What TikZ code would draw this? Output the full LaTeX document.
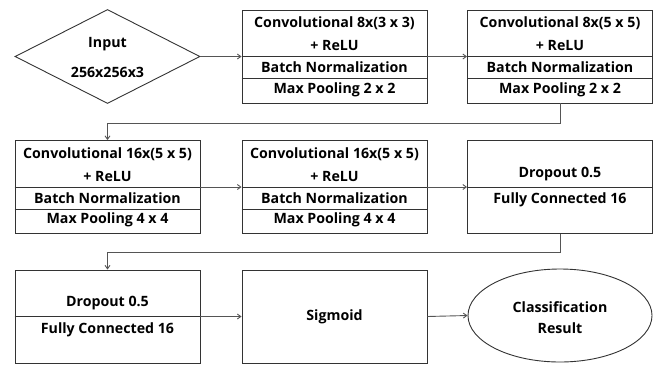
\documentclass[tikz,border=0pt]{standalone}
\usepackage{fontspec}
\setmainfont{Open Sans}
\usetikzlibrary{shapes.geometric,arrows.meta}
\definecolor{edge}{HTML}{333333}
\definecolor{wire}{HTML}{555555}
\begin{document}
\begin{tikzpicture}[x=1pt,y=-1pt,
  font=\fontsize{14.2}{16}\selectfont\bfseries,
  blk/.style={draw=edge, line width=0.9pt, minimum width=185pt, minimum height=93pt, inner sep=0pt},
  rule/.style={draw=edge, line width=0.8pt},
  txt/.style={inner sep=0pt, anchor=center},
  link/.style={draw=wire, line width=0.9pt, -{Straight Barb[length=3.5pt,width=5pt]}}
]
\useasboundingbox (0,0) rectangle (662,365);

% ---------- row 1 ----------
\node[diamond, draw=edge, line width=0.9pt, minimum width=185pt, minimum height=94pt,
      shape aspect=1.97, inner sep=0pt] (in) at (107.5,56.5) {};
\node[txt] (inA) at (107.5,44) {Input};
\node[txt] (inB) at (107.5,72) {256x256x3};

\node[blk] (b1) at (334.5,56.5) {};
\draw[rule] (b1.west) -- (b1.east);
\draw[rule] ([yshift=-22pt]b1.west) -- ([yshift=-22pt]b1.east);
\node[txt] (b1a) at (334.5,23.5) {Convolutional 8x(3 x 3)};
\node[txt] (b1b) at (334.5,45.5) {+ ReLU};
\node[txt] (b1c) at (334.5,67.5) {Batch Normalization};
\node[txt] (b1d) at (334.5,89.5) {Max Pooling 2 x 2};

\node[blk] (b2) at (560,56.5) {};
\draw[rule] (b2.west) -- (b2.east);
\draw[rule] ([yshift=-22pt]b2.west) -- ([yshift=-22pt]b2.east);
\node[txt] (b2a) at (560,23.5) {Convolutional 8x(5 x 5)};
\node[txt] (b2b) at (560,45.5) {+ ReLU};
\node[txt] (b2c) at (560,67.5) {Batch Normalization};
\node[txt] (b2d) at (560,89.5) {Max Pooling 2 x 2};

% ---------- row 2 ----------
\node[blk] (b3) at (107.5,187) {};
\draw[rule] (b3.west) -- (b3.east);
\draw[rule] ([yshift=-22pt]b3.west) -- ([yshift=-22pt]b3.east);
\node[txt] (b3a) at (107.5,154) {Convolutional 16x(5 x 5)};
\node[txt] (b3b) at (107.5,176) {+ ReLU};
\node[txt] (b3c) at (107.5,198) {Batch Normalization};
\node[txt] (b3d) at (107.5,220) {Max Pooling 4 x 4};

\node[blk] (b4) at (334.5,187) {};
\draw[rule] (b4.west) -- (b4.east);
\draw[rule] ([yshift=-22pt]b4.west) -- ([yshift=-22pt]b4.east);
\node[txt] (b4a) at (334.5,154) {Convolutional 16x(5 x 5)};
\node[txt] (b4b) at (334.5,176) {+ ReLU};
\node[txt] (b4c) at (334.5,198) {Batch Normalization};
\node[txt] (b4d) at (334.5,220) {Max Pooling 4 x 4};

\node[blk] (b5) at (560,187) {};
\draw[rule] (b5.west) -- (b5.east);
\node[txt] (b5a) at (560,174) {Dropout 0.5};
\node[txt] (b5b) at (560,200) {Fully Connected 16};

% ---------- row 3 ----------
\node[blk] (b6) at (107.5,316.5) {};
\draw[rule] (b6.west) -- (b6.east);
\node[txt] (b6a) at (107.5,303.5) {Dropout 0.5};
\node[txt] (b6b) at (107.5,330) {Fully Connected 16};

\node[blk] (sg) at (334.5,316.5) {Sigmoid};

\node[ellipse, draw=edge, line width=0.9pt, minimum width=184pt, minimum height=93pt,
      inner sep=0pt] (out) at (560,315.5) {};
\node[txt] (outA) at (560,307) {Classification};
\node[txt] (outB) at (560,328) {Result};

% ---------- connectors ----------
\draw[link] (in.east) -- (b1.west);
\draw[link] (b1.east) -- (b2.west);
\draw[link] (b2.south) -- ++(0,20) -| (b3.north);
\draw[link] (b3.east) -- (b4.west);
\draw[link] (b4.east) -- (b5.west);
\draw[link] (b5.south) -- ++(0,18.5) -| (b6.north);
\draw[link] (b6.east) -- (sg.west);
\draw[link] (sg.east) -- (out.west);
\end{tikzpicture}
\end{document}
